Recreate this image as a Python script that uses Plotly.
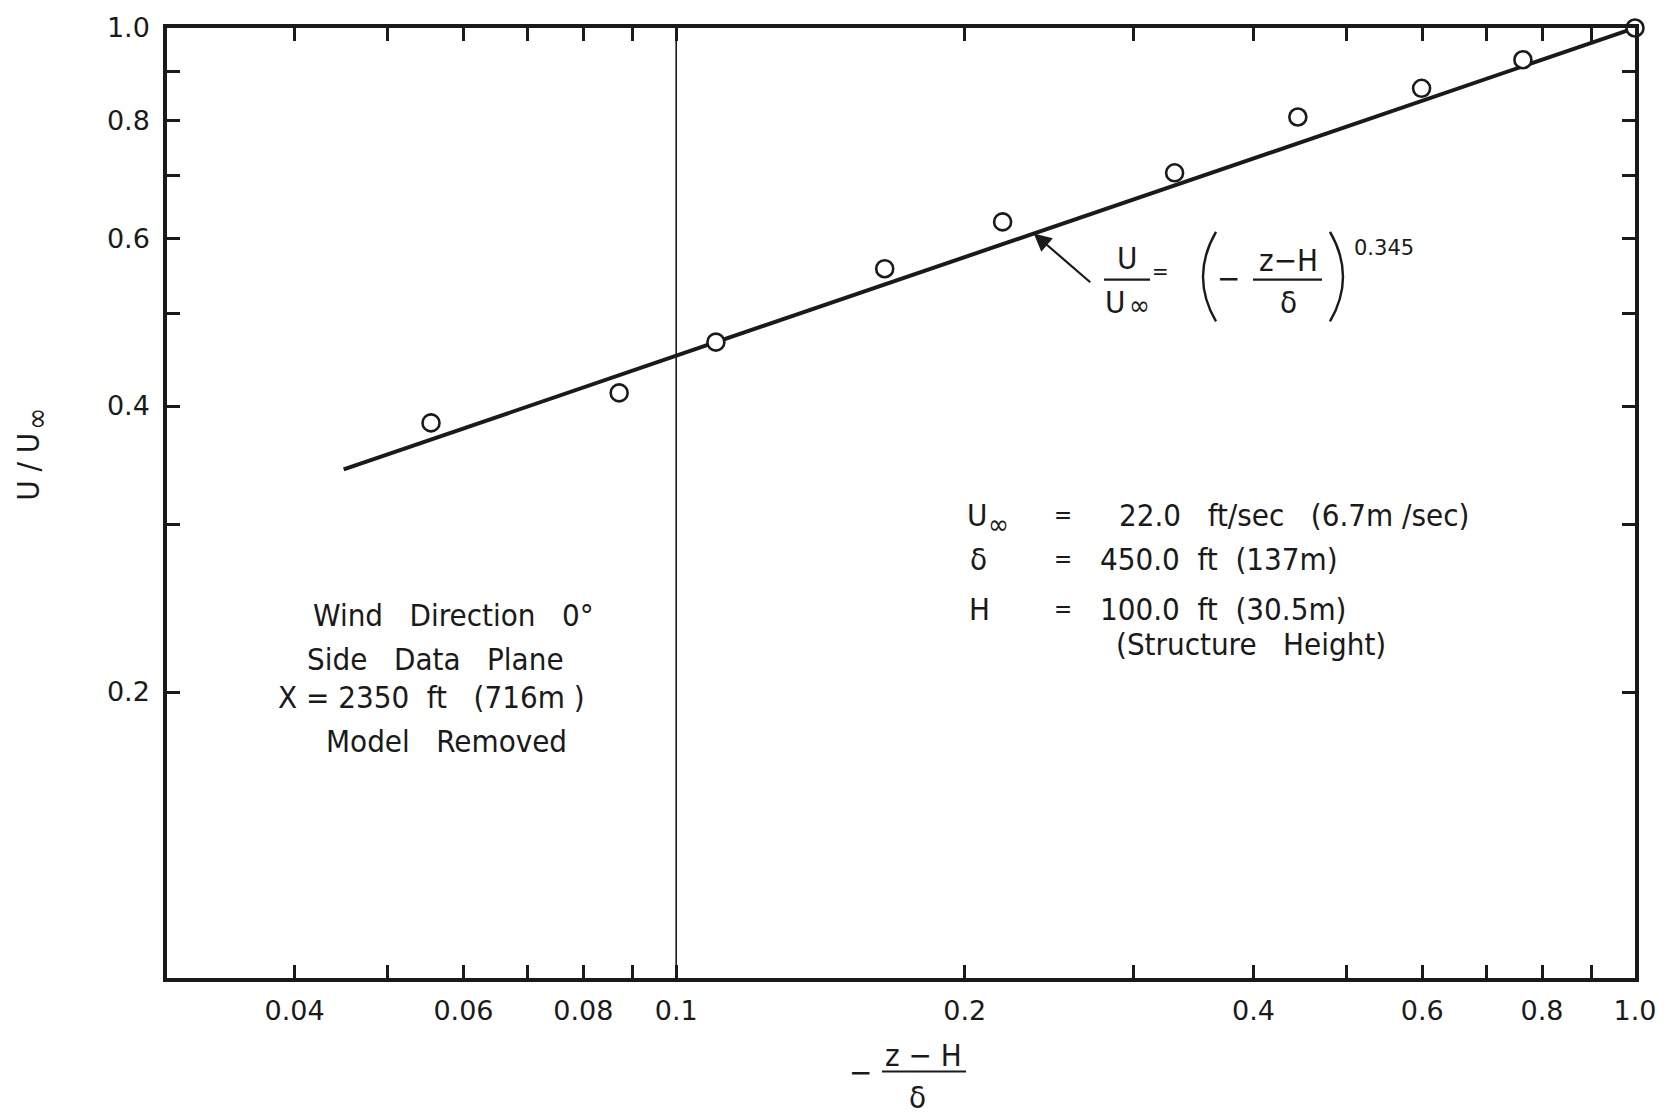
import math
import plotly.graph_objects as go

# Observed velocity ratios vs. normalized height
x_obs = [0.0555, 0.0872, 0.110, 0.165, 0.219, 0.331, 0.445, 0.599, 0.764, 1.0]
u_obs = [0.384, 0.413, 0.467, 0.558, 0.625, 0.704, 0.806, 0.864, 0.926, 1.0]

# Power-law fit  U/U_inf = (-(z-H)/delta)^alpha
alpha = 0.345
fit_x = [0.045, 1.0]
fit_u = [v ** alpha for v in fit_x]

# Axis ticks
x_tickvals = [0.04, 0.05, 0.06, 0.07, 0.08, 0.09, 0.1, 0.2, 0.3, 0.4, 0.5, 0.6, 0.7, 0.8, 0.9, 1.0]
x_ticktext = ["0.04", "", "0.06", "", "0.08", "", "0.1", "0.2", "", "0.4", "", "0.6", "", "0.8", "", "1.0"]
y_tickvals = [0.2, 0.3, 0.4, 0.5, 0.6, 0.7, 0.8, 0.9, 1.0]
y_ticktext = ["0.2", "", "0.4", "", "0.6", "", "0.8", "", "1.0"]

# Reference line at -(z-H)/delta = 0.1
ref_x = [0.1, 0.1]
ref_u = [0.1, 1.0]

# Arrow tip on the fitted line
arrow_x = 0.236

TICK_FONT = "DejaVu Sans, Lato, Roboto, sans-serif"
TEXT_FONT = "DejaVu Sans Condensed, Liberation Sans Narrow, Roboto, sans-serif"
INK = "#1a1a1a"

fig = go.Figure()

fig.add_trace(go.Scatter(x=ref_x, y=ref_u, mode="lines",
                         line=dict(color=INK, width=1.6), hoverinfo="skip"))
fig.add_trace(go.Scatter(x=fit_x, y=fit_u, mode="lines",
                         line=dict(color=INK, width=4)))
fig.add_trace(go.Scatter(x=x_obs, y=u_obs, mode="markers", cliponaxis=False,
                         marker=dict(symbol="circle", size=17, color="white",
                                     line=dict(color=INK, width=2.6))))

axis_common = dict(
    type="log", showgrid=False, zeroline=False,
    showline=True, linecolor=INK, linewidth=3.5, mirror="ticks",
    ticks="inside", ticklen=13, tickwidth=2.5, tickcolor=INK,
    tickfont=dict(family=TICK_FONT, size=27, color=INK),
)

fig.update_xaxes(range=[math.log10(0.02944), 0.0], tickvals=x_tickvals,
                 ticktext=x_ticktext, ticklabelstandoff=6, **axis_common)
fig.update_yaxes(range=[-1.0, 0.0], tickvals=y_tickvals,
                 ticktext=y_ticktext, ticklabelstandoff=8, **axis_common)

L, R, T, B = 167, 37, 23, 139
W, H = 1672, 1117
PW, PH = W - L - R, H - T - B


def px(xp):
    return (xp - L) / PW


def py(yp):
    return (H - B - yp) / PH


ann = []
SP2 = "&nbsp;&nbsp;"
SP3 = "&nbsp;&nbsp;&nbsp;"


def txt(text, xp, yp, size=31, xanchor="center", family=TEXT_FONT, angle=0):
    ann.append(dict(text=text, x=px(xp), y=py(yp), xref="paper", yref="paper",
                    xanchor=xanchor, yanchor="middle", showarrow=False,
                    textangle=angle,
                    font=dict(family=family, size=size, color=INK)))


# Left note block
txt("Wind" + SP3 + "Direction" + SP2 + " 0°", 453, 613)
txt("Side" + SP3 + "Data" + SP3 + "Plane", 435, 657)
txt("X = 2350" + SP2 + "ft" + SP3 + "(716m )", 431, 696)
txt("Model" + SP3 + "Removed", 446, 740)

# Parameter block
txt("U", 965, 513, xanchor="left")
txt("∞", 986, 522, size=28, xanchor="left")
txt("δ", 968, 557, xanchor="left")
txt("H", 967, 607, xanchor="left")
for yy in (513, 557, 607):
    txt("=", 1063, yy, size=24)
txt("22.0" + SP3 + "ft/sec" + SP3 + "(6.7m /sec)", 1117, 513, xanchor="left")
txt("450.0" + SP2 + "ft" + SP2 + "(137m)", 1098, 557, xanchor="left")
txt("100.0" + SP2 + "ft" + SP2 + "(30.5m)", 1098, 607, xanchor="left")
txt("(Structure" + SP3 + "Height)", 1114, 642, xanchor="left")

# Fit equation
txt("U", 1127, 254)
txt("U", 1115, 298)
txt("∞", 1139, 302, size=28)
txt("=", 1160, 268, size=22)
txt("−", 1228, 274)
txt("z−H", 1288, 256)
txt("δ", 1288, 298)
txt("0.345", 1384, 244, size=21, family=TICK_FONT)

# X axis title  -(z - H)/delta
txt("−", 860, 1072)
txt("z − H", 923, 1055)
txt("δ", 917, 1098)

# Y axis title
txt("U / U", 28, 464, angle=-90)
txt("∞", 37, 416, size=30, angle=-90)

# Arrow pointing at the fitted line
ann.append(dict(x=math.log10(arrow_x), y=math.log10(arrow_x ** alpha),
                xref="x", yref="y", text="", showarrow=True,
                ax=58, ay=50, arrowhead=2, arrowsize=1.6, arrowwidth=2.2,
                arrowcolor=INK))

fig.update_layout(annotations=ann)

# Fraction bars
bars = [(1104, 1150, 276), (1253, 1322, 276), (882, 966, 1072)]
shapes = [
    dict(type="line", xref="paper", yref="paper",
         x0=px(a), x1=px(b), y0=py(c), y1=py(c),
         line=dict(color=INK, width=2.2))
    for a, b, c in bars
]


# Thin large parentheses around the fraction
def paren(x_end, x_ctrl, y0, y1):
    ym = (y0 + y1) / 2
    return (f"M {px(x_end)},{py(y0)} Q {px(x_ctrl)},{py(ym)} "
            f"{px(x_end)},{py(y1)}")


for xe, xc in ((1216, 1190), (1330, 1356)):
    shapes.append(dict(type="path", xref="paper", yref="paper",
                       path=paren(xe, xc, 228, 318),
                       line=dict(color=INK, width=2.4)))

fig.update_layout(shapes=shapes)

fig.update_layout(
    width=W, height=H,
    margin=dict(l=L, r=R, t=T, b=B),
    paper_bgcolor="white", plot_bgcolor="white",
    showlegend=False,
)

fig.write_html("out.html")
